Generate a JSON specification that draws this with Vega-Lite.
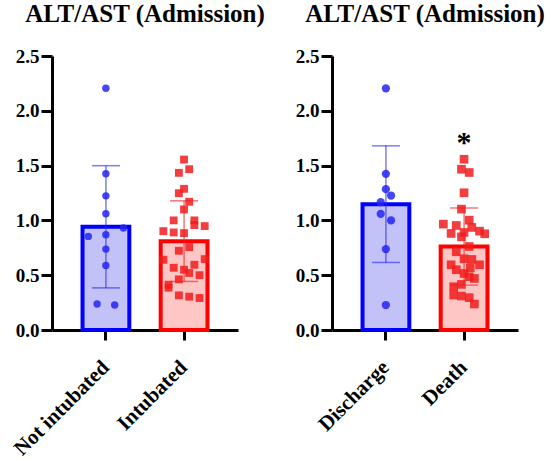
{
  "$schema": "https://vega.github.io/schema/vega-lite/v6.json",
  "padding": {"left": 9, "top": 2, "right": 2, "bottom": 2},
  "background": "white",
  "config": {
    "view": {"stroke": null},
    "font": "Liberation Serif",
    "title": {"font": "Liberation Serif", "fontSize": 25, "fontWeight": "bold", "color": "black", "anchor": "middle", "frame": "group", "offset": 20},
    "axis": {"domainColor": "black", "tickColor": "black", "labelColor": "black", "domainWidth": 3, "tickWidth": 3, "grid": false, "labelFont": "Liberation Serif", "labelFontWeight": "bold"},
    "legend": {"disable": true}
  },
  "datasets": {
    "pts": [
      {"panel": "A", "group": "Not intubated", "value": 2.205, "col": 0},
      {"panel": "A", "group": "Not intubated", "value": 1.425, "col": 0},
      {"panel": "A", "group": "Not intubated", "value": 1.224, "col": 0},
      {"panel": "A", "group": "Not intubated", "value": 1.06, "col": 0},
      {"panel": "A", "group": "Not intubated", "value": 0.93, "col": 3.4},
      {"panel": "A", "group": "Not intubated", "value": 0.854, "col": -3.4},
      {"panel": "A", "group": "Not intubated", "value": 0.869, "col": 0},
      {"panel": "A", "group": "Not intubated", "value": 0.738, "col": 0},
      {"panel": "A", "group": "Not intubated", "value": 0.589, "col": 0},
      {"panel": "A", "group": "Not intubated", "value": 0.237, "col": -1.7},
      {"panel": "A", "group": "Not intubated", "value": 0.228, "col": 1.7},
      {"panel": "A", "group": "Intubated", "value": 1.555, "col": 0},
      {"panel": "A", "group": "Intubated", "value": 1.434, "col": -1},
      {"panel": "A", "group": "Intubated", "value": 1.467, "col": 1},
      {"panel": "A", "group": "Intubated", "value": 1.288, "col": 0},
      {"panel": "A", "group": "Intubated", "value": 1.248, "col": -1},
      {"panel": "A", "group": "Intubated", "value": 1.17, "col": 1},
      {"panel": "A", "group": "Intubated", "value": 1.1, "col": 0},
      {"panel": "A", "group": "Intubated", "value": 1.0, "col": -2},
      {"panel": "A", "group": "Intubated", "value": 1.0, "col": 2},
      {"panel": "A", "group": "Intubated", "value": 0.957, "col": 2},
      {"panel": "A", "group": "Intubated", "value": 0.948, "col": 4},
      {"panel": "A", "group": "Intubated", "value": 0.902, "col": -4},
      {"panel": "A", "group": "Intubated", "value": 0.89, "col": -2},
      {"panel": "A", "group": "Intubated", "value": 0.884, "col": 0},
      {"panel": "A", "group": "Intubated", "value": 0.723, "col": -1},
      {"panel": "A", "group": "Intubated", "value": 0.756, "col": 1},
      {"panel": "A", "group": "Intubated", "value": 0.641, "col": -4},
      {"panel": "A", "group": "Intubated", "value": 0.647, "col": 4},
      {"panel": "A", "group": "Intubated", "value": 0.595, "col": 2},
      {"panel": "A", "group": "Intubated", "value": 0.568, "col": -2},
      {"panel": "A", "group": "Intubated", "value": 0.55, "col": 0},
      {"panel": "A", "group": "Intubated", "value": 0.52, "col": 1},
      {"panel": "A", "group": "Intubated", "value": 0.5, "col": 3},
      {"panel": "A", "group": "Intubated", "value": 0.462, "col": -1},
      {"panel": "A", "group": "Intubated", "value": 0.413, "col": -3},
      {"panel": "A", "group": "Intubated", "value": 0.386, "col": -3},
      {"panel": "A", "group": "Intubated", "value": 0.316, "col": -1},
      {"panel": "A", "group": "Intubated", "value": 0.304, "col": 1},
      {"panel": "A", "group": "Intubated", "value": 0.292, "col": 3},
      {"panel": "B", "group": "Discharge", "value": 2.205, "col": 0},
      {"panel": "B", "group": "Discharge", "value": 1.425, "col": 0},
      {"panel": "B", "group": "Discharge", "value": 1.285, "col": 0},
      {"panel": "B", "group": "Discharge", "value": 1.227, "col": 1},
      {"panel": "B", "group": "Discharge", "value": 1.166, "col": -1},
      {"panel": "B", "group": "Discharge", "value": 1.06, "col": -1},
      {"panel": "B", "group": "Discharge", "value": 1.0, "col": 1},
      {"panel": "B", "group": "Discharge", "value": 0.738, "col": 0},
      {"panel": "B", "group": "Discharge", "value": 0.228, "col": 0},
      {"panel": "B", "group": "Death", "value": 1.558, "col": 0},
      {"panel": "B", "group": "Death", "value": 1.467, "col": -0.5},
      {"panel": "B", "group": "Death", "value": 1.437, "col": 1},
      {"panel": "B", "group": "Death", "value": 1.252, "col": 0},
      {"panel": "B", "group": "Death", "value": 1.103, "col": -0.5},
      {"panel": "B", "group": "Death", "value": 1.002, "col": 1},
      {"panel": "B", "group": "Death", "value": 0.966, "col": -4},
      {"panel": "B", "group": "Death", "value": 0.954, "col": -1.5},
      {"panel": "B", "group": "Death", "value": 0.936, "col": 1.5},
      {"panel": "B", "group": "Death", "value": 0.902, "col": 3},
      {"panel": "B", "group": "Death", "value": 0.878, "col": 4},
      {"panel": "B", "group": "Death", "value": 0.881, "col": -2.5},
      {"panel": "B", "group": "Death", "value": 0.89, "col": 0},
      {"panel": "B", "group": "Death", "value": 0.85, "col": -0.5},
      {"panel": "B", "group": "Death", "value": 0.762, "col": 1},
      {"panel": "B", "group": "Death", "value": 0.714, "col": -1.5},
      {"panel": "B", "group": "Death", "value": 0.65, "col": 0},
      {"panel": "B", "group": "Death", "value": 0.644, "col": 1.5},
      {"panel": "B", "group": "Death", "value": 0.595, "col": -2.5},
      {"panel": "B", "group": "Death", "value": 0.595, "col": 3},
      {"panel": "B", "group": "Death", "value": 0.568, "col": 1.2},
      {"panel": "B", "group": "Death", "value": 0.55, "col": -1.5},
      {"panel": "B", "group": "Death", "value": 0.516, "col": 0},
      {"panel": "B", "group": "Death", "value": 0.486, "col": 1},
      {"panel": "B", "group": "Death", "value": 0.47, "col": 2},
      {"panel": "B", "group": "Death", "value": 0.416, "col": -0.5},
      {"panel": "B", "group": "Death", "value": 0.395, "col": -2},
      {"panel": "B", "group": "Death", "value": 0.319, "col": -2},
      {"panel": "B", "group": "Death", "value": 0.31, "col": -0.5},
      {"panel": "B", "group": "Death", "value": 0.295, "col": 1},
      {"panel": "B", "group": "Death", "value": 0.237, "col": 2}
    ],
    "annot": [
      {"panel": "B", "group": "Death", "y": 1.78, "label": "*"}
    ]
  },
  "spacing": 94,
  "bounds": "flush",
  "resolve": {"scale": {"x": "independent", "xOffset": "independent"}},
  "hconcat": [
    {
      "width": 186,
      "height": 274,
      "title": "ALT/AST (Admission)",
      "data": {"name": "pts"},
      "transform": [{"filter": "datum.panel === 'A'"}],
      "encoding": {
        "x": {"field": "group", "type": "nominal", "sort": ["Not intubated", "Intubated"], "title": null,
              "scale": {"paddingInner": 0.4, "paddingOuter": 0.39},
              "axis": {"labelAngle": -45, "labelAlign": "right", "labelBaseline": "middle", "labelPadding": 24, "tickSize": 10, "labelFont": "Liberation Serif", "labelFontWeight": "bold", "labelFontSize": 21}}
      },
      "layer": [
        {
          "mark": {"type": "bar", "strokeWidth": 4, "width": 46.8},
          "encoding": {
            "y": {"aggregate": "mean", "field": "value", "type": "quantitative", "title": null,
                  "scale": {"domain": [0, 2.5], "nice": false},
                  "axis": {"values": [0, 0.5, 1, 1.5, 2, 2.5], "format": ".1f", "tickSize": 11, "labelPadding": 2, "labelFont": "Liberation Serif", "labelFontWeight": "bold", "labelFontSize": 19}},
            "fill": {"field": "group", "type": "nominal", "scale": {"domain": ["Not intubated", "Intubated", "Discharge", "Death"], "range": ["#C2C2F9", "#FFC6C6", "#C2C2F9", "#FFC6C6"]}},
            "stroke": {"field": "group", "type": "nominal", "scale": {"domain": ["Not intubated", "Intubated", "Discharge", "Death"], "range": ["#0000FF", "#FF0000", "#0000FF", "#FF0000"]}}
          }
        },
        {
          "mark": {"type": "errorbar", "extent": "stdev", "thickness": 1.5, "rule": {"opacity": 0.6}, "ticks": {"size": 28, "opacity": 0.6}},
          "encoding": {
            "y": {"field": "value", "type": "quantitative", "title": null},
            "color": {"field": "group", "type": "nominal", "scale": {"domain": ["Not intubated", "Intubated", "Discharge", "Death"], "range": ["#2424F2", "#F01C1C", "#2424F2", "#F01C1C"]}}
          }
        },
        {
          "mark": {"type": "point", "filled": true, "opacity": 0.85, "strokeWidth": 0},
          "encoding": {
            "xOffset": {"field": "col", "type": "quantitative", "scale": {"domain": [-4.53, 4.53], "range": [0, 46.8]}},
            "y": {"field": "value", "type": "quantitative", "title": null},
            "color": {"field": "group", "type": "nominal", "scale": {"domain": ["Not intubated", "Intubated", "Discharge", "Death"], "range": ["#2424F2", "#F01C1C", "#2424F2", "#F01C1C"]}},
            "shape": {"field": "group", "type": "nominal", "scale": {"domain": ["Not intubated", "Intubated", "Discharge", "Death"], "range": ["circle", "square", "circle", "square"]}},
            "size": {"field": "group", "type": "nominal", "scale": {"domain": ["Not intubated", "Intubated", "Discharge", "Death"], "range": [55, 75, 55, 75]}}
          }
        }
      ]
    },
    {
      "width": 186,
      "height": 274,
      "title": "ALT/AST (Admission)",
      "data": {"name": "pts"},
      "transform": [{"filter": "datum.panel === 'B'"}],
      "encoding": {
        "x": {"field": "group", "type": "nominal", "sort": ["Discharge", "Death"], "title": null,
              "scale": {"paddingInner": 0.4, "paddingOuter": 0.39},
              "axis": {"labelAngle": -45, "labelAlign": "right", "labelBaseline": "middle", "labelPadding": 24, "tickSize": 10, "labelFont": "Liberation Serif", "labelFontWeight": "bold", "labelFontSize": 21}}
      },
      "layer": [
        {
          "mark": {"type": "bar", "strokeWidth": 4, "width": 46.8},
          "encoding": {
            "y": {"aggregate": "mean", "field": "value", "type": "quantitative", "title": null,
                  "scale": {"domain": [0, 2.5], "nice": false},
                  "axis": {"values": [0, 0.5, 1, 1.5, 2, 2.5], "format": ".1f", "tickSize": 11, "labelPadding": 2, "labelFont": "Liberation Serif", "labelFontWeight": "bold", "labelFontSize": 19}},
            "fill": {"field": "group", "type": "nominal", "scale": {"domain": ["Not intubated", "Intubated", "Discharge", "Death"], "range": ["#C2C2F9", "#FFC6C6", "#C2C2F9", "#FFC6C6"]}},
            "stroke": {"field": "group", "type": "nominal", "scale": {"domain": ["Not intubated", "Intubated", "Discharge", "Death"], "range": ["#0000FF", "#FF0000", "#0000FF", "#FF0000"]}}
          }
        },
        {
          "mark": {"type": "errorbar", "extent": "stdev", "thickness": 1.5, "rule": {"opacity": 0.6}, "ticks": {"size": 28, "opacity": 0.6}},
          "encoding": {
            "y": {"field": "value", "type": "quantitative", "title": null},
            "color": {"field": "group", "type": "nominal", "scale": {"domain": ["Not intubated", "Intubated", "Discharge", "Death"], "range": ["#2424F2", "#F01C1C", "#2424F2", "#F01C1C"]}}
          }
        },
        {
          "mark": {"type": "point", "filled": true, "opacity": 0.85, "strokeWidth": 0},
          "encoding": {
            "xOffset": {"field": "col", "type": "quantitative", "scale": {"domain": [-4.53, 4.53], "range": [0, 46.8]}},
            "y": {"field": "value", "type": "quantitative", "title": null},
            "color": {"field": "group", "type": "nominal", "scale": {"domain": ["Not intubated", "Intubated", "Discharge", "Death"], "range": ["#2424F2", "#F01C1C", "#2424F2", "#F01C1C"]}},
            "shape": {"field": "group", "type": "nominal", "scale": {"domain": ["Not intubated", "Intubated", "Discharge", "Death"], "range": ["circle", "square", "circle", "square"]}},
            "size": {"field": "group", "type": "nominal", "scale": {"domain": ["Not intubated", "Intubated", "Discharge", "Death"], "range": [55, 75, 55, 75]}}
          }
        },
        {
          "data": {"name": "annot"},
          "mark": {"type": "text", "font": "Liberation Serif", "fontWeight": "bold", "fontSize": 30, "baseline": "middle", "color": "black", "dy": 8},
          "encoding": {
            "y": {"field": "y", "type": "quantitative", "title": null},
            "text": {"field": "label"}
          }
        }
      ]
    }
  ]
}
